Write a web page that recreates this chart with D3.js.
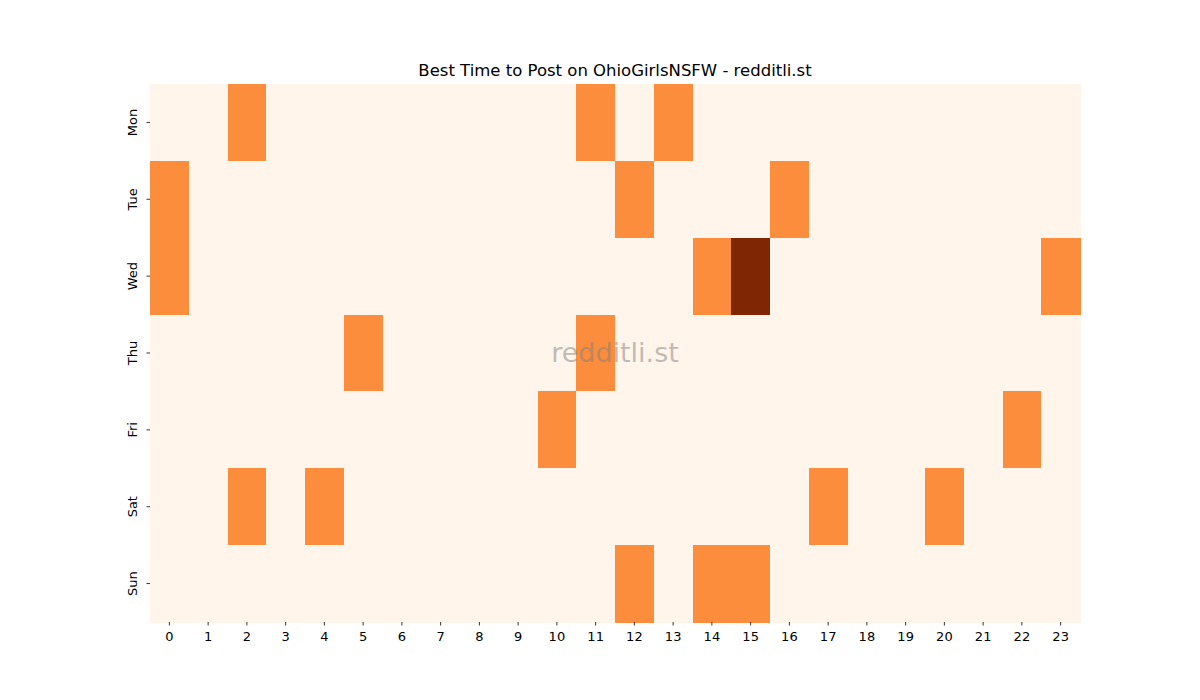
<!DOCTYPE html>
<html>
<head>
<meta charset="utf-8">
<script src="https://cdn.jsdelivr.net/npm/d3@7"></script>
<style>
  body { margin: 0; background: #fff; }
  svg { font-family: "DejaVu Sans", sans-serif; }
</style>
</head>
<body>
<svg width="1200" height="700"></svg>
<script>
// rows and columns of the heatmap
var days = ["Mon", "Tue", "Wed", "Thu", "Fri", "Sat", "Sun"];
var hours = d3.range(24);

// hours with posts per day (value 1 unless listed in the "two" lists)
var monHours = [2, 11, 13];
var tueHours = [0, 12, 16];
var wedHours = [0, 14, 23];
var wedHoursTwo = [15];
var thuHours = [5, 11];
var friHours = [10, 22];
var satHours = [2, 4, 17, 20];
var sunHours = [12, 14, 15];

var ones = [monHours, tueHours, wedHours, thuHours, friHours, satHours, sunHours];
var twos = [[], [], wedHoursTwo, [], [], [], []];

var cells = [];
days.forEach(function(d, i) {
  hours.forEach(function(h) {
    var v = 0;
    if (ones[i].indexOf(h) > -1) v = 1;
    if (twos[i].indexOf(h) > -1) v = 2;
    cells.push({ day: d, hour: h, value: v });
  });
});

var margin = { top: 84, right: 120, bottom: 78, left: 150 };
var svg = d3.select("svg");
var width = 1200 - margin.left - margin.right;
var height = 700 - margin.top - margin.bottom;

var g = svg.append("g")
  .attr("transform", "translate(" + margin.left + "," + margin.top + ")");

var x = d3.scaleBand().domain(hours).range([0, width]);
var y = d3.scaleBand().domain(days).range([0, height]);
var color = d3.scaleSequential(d3.interpolateOranges).domain([0, 2]);

g.selectAll("rect")
  .data(cells)
  .enter().append("rect")
  .attr("x", function(d) { return x(d.hour); })
  .attr("y", function(d) { return y(d.day); })
  .attr("width", x.bandwidth() + 0.5)
  .attr("height", y.bandwidth() + 0.5)
  .attr("shape-rendering", "crispEdges")
  .attr("fill", function(d) { return color(d.value); });

var xAxis = g.append("g")
  .attr("transform", "translate(0," + height + ")")
  .call(d3.axisBottom(x).tickSize(3.5).tickPadding(4))
  .attr("font-family", "DejaVu Sans")
  .attr("font-size", 13);
xAxis.select(".domain").remove();
xAxis.selectAll("text").attr("fill", "#000").attr("dy", "0.9em");
xAxis.selectAll("line").attr("stroke", "#000").attr("stroke-width", 0.8);

var yAxis = g.append("g")
  .call(d3.axisLeft(y).tickSize(3.5).tickPadding(4))
  .attr("font-family", "DejaVu Sans")
  .attr("font-size", 13);
yAxis.select(".domain").remove();
yAxis.selectAll("line").attr("stroke", "#000").attr("stroke-width", 0.8);
yAxis.selectAll("text")
  .attr("fill", "#000")
  .attr("text-anchor", "middle")
  .attr("transform", "rotate(-90)")
  .attr("x", 0)
  .attr("y", -13)
  .attr("dy", "0");

// title
svg.append("text")
  .attr("x", margin.left + width / 2)
  .attr("y", 76)
  .attr("text-anchor", "middle")
  .attr("font-size", 16.5)
  .attr("fill", "#000")
  .text("Best Time to Post on OhioGirlsNSFW - redditli.st");

// watermark
svg.append("text")
  .attr("x", margin.left + width / 2)
  .attr("y", 362)
  .attr("text-anchor", "middle")
  .attr("font-size", 27)
  .attr("fill", "#808080")
  .attr("fill-opacity", 0.5)
  .text("redditli.st");
</script>
</body>
</html>
